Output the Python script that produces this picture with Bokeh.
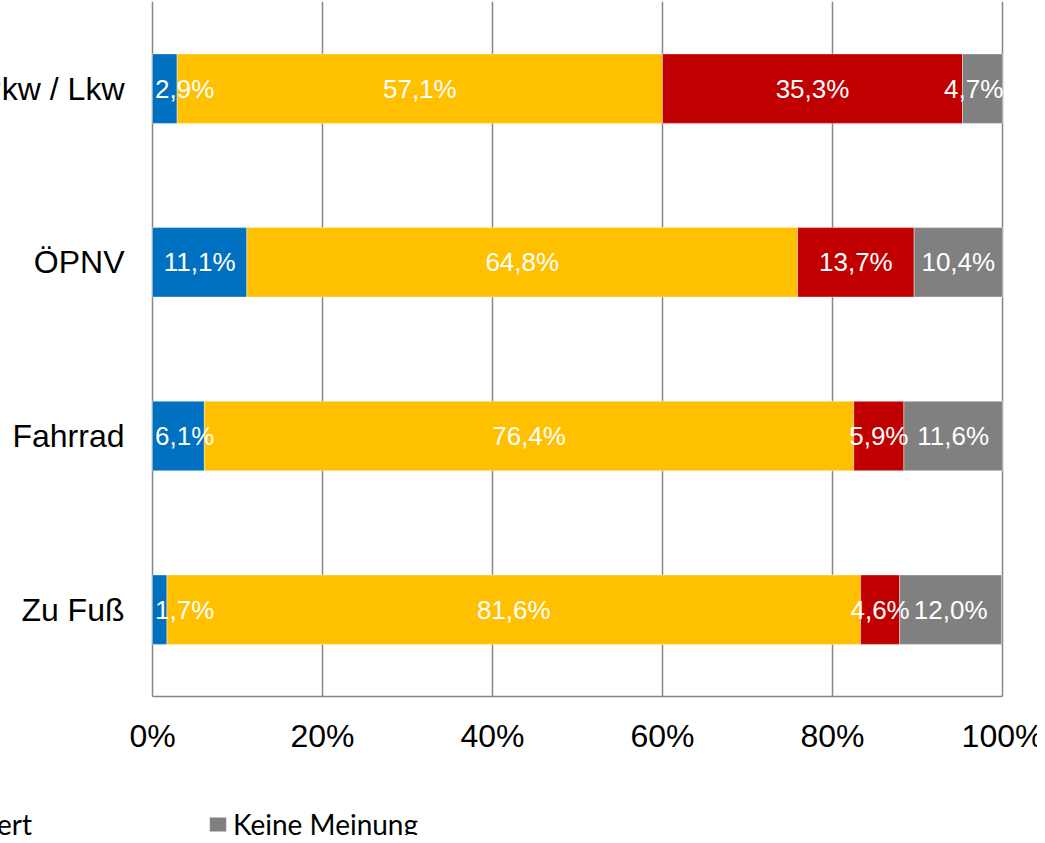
from bokeh.plotting import figure
from bokeh.models import Range1d, ColumnDataSource, Legend, LegendItem
from bokeh.core.properties import value
from bokeh.embed import file_html
from bokeh.resources import INLINE

# ---------------- data ----------------
categories = ["Pkw / Lkw", "ÖPNV", "Fahrrad", "Zu Fuß"]
series = ["Verbessert", "Gleich geblieben", "Verschlechtert", "Keine Meinung"]
verbessert = [2.9, 11.1, 6.1, 1.7]
gleich_geblieben = [57.1, 64.8, 76.4, 81.6]
verschlechtert = [35.3, 13.7, 5.9, 4.6]
keine_meinung = [4.7, 10.4, 11.6, 12.0]
x_ticks = [0, 20, 40, 60, 80, 100]
x_tick_labels = ["0%", "20%", "40%", "60%", "80%", "100%"]

colors = ["#0070C0", "#FFC000", "#C00000", "#808080"]
grid_color = "#878787"

W, H = 1037, 835
# plot area: 0% at px 152, 100% at px 1002; category band 173.67 px, baseline at px 696
x_px0, x_px_per = 152, 8.5
y_px0, y_px_per = 696, 173.67

n = len(categories)
ypos = [n - i - 0.5 for i in range(n)]
y_top = float(n)
keys = ["s0", "s1", "s2", "s3"]
values = [verbessert, gleich_geblieben, verschlechtert, keine_meinung]

src = ColumnDataSource(dict(y=ypos, cat=categories,
                            **{k: v for k, v in zip(keys, values)}))

p = figure(width=W, height=H, output_backend="svg", toolbar_location=None,
           x_range=Range1d(-x_px0 / x_px_per, (W - x_px0) / x_px_per),
           y_range=Range1d(-(H - y_px0) / y_px_per, y_px0 / y_px_per),
           x_axis_location=None, y_axis_location=None,
           min_border=0, min_border_left=0, min_border_right=0,
           min_border_top=0, min_border_bottom=0)
p.outline_line_color = None
p.grid.visible = False
p.background_fill_color = "white"
p.border_fill_color = "white"

# vertical gridlines and category-axis baseline
p.segment(x0=x_ticks, y0=[0] * len(x_ticks), x1=x_ticks, y1=[y_top] * len(x_ticks),
          line_color=grid_color, line_width=1.5)
p.segment(x0=[x_ticks[0]], y0=[0], x1=[x_ticks[-1]], y1=[0],
          line_color=grid_color, line_width=1.5)

renderers = p.hbar_stack(keys, y="y", height=0.4, source=src,
                         fill_color=colors, line_color="white",
                         line_width=0.8, line_alpha=0.5)

# data labels
lab_x, lab_y, lab_t, lab_a = [], [], [], []
font_px = 26
for i in range(n):
    left = 0.0
    for vals in values:
        v = vals[i]
        txt = f"{v:.1f}".replace(".", ",") + "%"
        c = left + v / 2
        half = 0.6 * font_px * len(txt) / x_px_per / 2
        if c - half < 0:
            lab_x.append(0.3); lab_a.append("left")
        elif c + half > 100:
            lab_x.append(100.1); lab_a.append("right")
        else:
            lab_x.append(c); lab_a.append("center")
        lab_y.append(ypos[i]); lab_t.append(txt)
        left += v

lsrc = ColumnDataSource(dict(x=lab_x, y=lab_y, t=lab_t, a=lab_a))
p.text(x="x", y="y", text="t", source=lsrc, text_align="a",
       text_baseline="middle", text_color="white",
       text_font=value("Liberation Sans"), text_font_size=f"{font_px}px")

# category labels (left axis)
p.text(x=[-28 / x_px_per] * n, y=ypos, text=categories, text_align="right",
       text_baseline="middle", text_color="black",
       text_font=value("Liberation Sans"), text_font_size="32px")

# x tick labels
p.text(x=x_ticks, y=[-39 / y_px_per] * len(x_ticks), text=x_tick_labels,
       text_align="center", text_baseline="middle", text_color="black",
       text_font=value("Liberation Sans"), text_font_size="32px")

# legend
label_w, glyph_w, stand, spacing = 220, 21, 5, 133
item_w = glyph_w + stand + label_w
legend_x = 207 - 3 * item_w - 3 * spacing
legend = Legend(items=[LegendItem(label=s, renderers=[r])
                       for s, r in zip(series, renderers)],
                orientation="horizontal", location=(legend_x, -6),
                spacing=spacing, padding=0, margin=0,
                glyph_width=glyph_w, glyph_height=18, label_standoff=stand,
                label_width=label_w, label_height=18,
                label_text_font="Lato", label_text_font_size="28px",
                label_text_color="black",
                background_fill_alpha=0, border_line_alpha=0)
p.add_layout(legend)

open("out.html", "w").write(file_html(p, INLINE))
